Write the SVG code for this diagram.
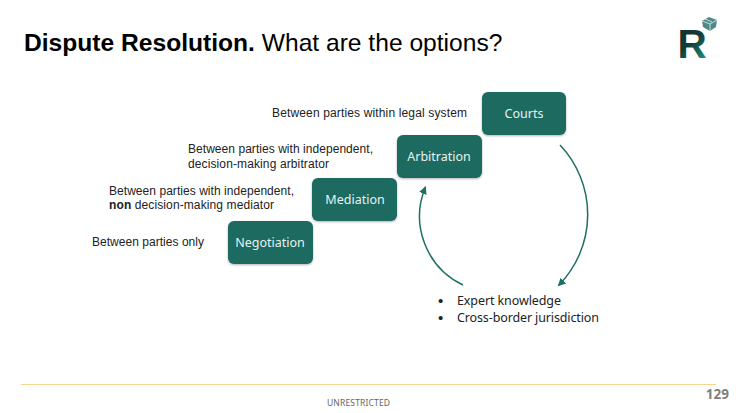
<svg xmlns="http://www.w3.org/2000/svg" width="736" height="413" viewBox="0 0 736 413">
<style>
.t{font-family:"Liberation Sans",Arial,sans-serif;font-size:12px;fill:#222}
.n rect{fill:#1b6b60;filter:url(#sh)}
.n text{font-family:"Noto Sans","Open Sans",sans-serif;font-size:12.5px;fill:#e8f2f0;text-anchor:middle}
.b{font-family:"Noto Sans","Open Sans",sans-serif;font-size:12.5px;fill:#222}
.d{font-family:"Liberation Sans",Arial,sans-serif;font-size:15px;fill:#222}
.c{fill:none;stroke:#1f6f64;stroke-width:1.5;marker-end:url(#a)}
</style>
<defs>
<filter id="sh" x="-10%" y="-10%" width="120%" height="125%"><feDropShadow dx="0" dy="1" stdDeviation="1" flood-color="#000" flood-opacity=".3"/></filter>
<marker id="a" markerWidth="10" markerHeight="10" refX="7" refY="4" orient="auto" markerUnits="userSpaceOnUse"><path d="M0 0L8 4L0 8Z" fill="#1f6f64"/></marker>
<linearGradient id="g" x1="0" y1="0" x2=".6" y2="1"><stop offset="0" stop-color="#0f2f2c"/><stop offset=".55" stop-color="#123c38"/><stop offset="1" stop-color="#1d8a7e"/></linearGradient>
</defs>
<rect width="736" height="413" fill="#fff"/>
<text x="24" y="51" font-family="Liberation Sans,Arial,sans-serif" font-size="24.6" fill="#000"><tspan font-weight="700">Dispute Resolution.</tspan> What are the options?</text>
<g id="logo">
<text x="677.500" y="58" font-family="Liberation Sans,Arial,sans-serif" font-weight="700" font-size="40.5" fill="url(#g)">R</text>
<path d="M702 21L709 17L717 20L716 27L710 31L703 27Z" fill="#4f8a88"/>
<path d="M702 21L710 24L717 20M710 24V31M705 19L712 22" fill="none" stroke="#e8f0f0" stroke-width=".8"/>
</g>
<g id="connectors">
<path class="c" d="M560 145A101 101 0 0 1 558.500 285.500"/>
<path class="c" d="M463 285A76 76 0 0 1 425.500 187"/>
</g>
<g id="courts" class="n"><rect x="482" y="92" width="84" height="43" rx="6"/><text x="524" y="118">Courts</text></g>
<g id="arbitration" class="n"><rect x="397" y="135" width="85" height="43" rx="6"/><text x="439" y="161">Arbitration</text></g>
<g id="mediation" class="n"><rect x="312" y="178" width="85" height="43" rx="6"/><text x="355" y="204">Mediation</text></g>
<g id="negotiation" class="n"><rect x="228" y="221" width="85" height="43" rx="6"/><text x="270" y="247">Negotiation</text></g>
<text class="t" x="272" y="117" textLength="195">Between parties within legal system</text>
<text class="t" x="188" y="153" textLength="185">Between parties with independent,</text>
<text class="t" x="188" y="168" textLength="141">decision-making arbitrator</text>
<text class="t" x="109" y="195" textLength="185">Between parties with independent,</text>
<text class="t" x="109" y="209" textLength="165"><tspan font-weight="700">non</tspan> decision-making mediator</text>
<text class="t" x="92" y="246" textLength="112">Between parties only</text>
<text class="d" x="438" y="306">•</text>
<text class="b" x="457" y="305" textLength="104">Expert knowledge</text>
<text class="d" x="438" y="323">•</text>
<text class="b" x="457" y="322" textLength="142">Cross-border jurisdiction</text>
<path d="M21 384.500H716" stroke="#f8d48c" stroke-width="1"/>
<text x="327" y="406" font-family="Noto Sans,sans-serif" font-size="8.5" fill="#666" textLength="63">UNRESTRICTED</text>
<text x="729" y="399" text-anchor="end" font-family="Noto Sans,sans-serif" font-weight="700" font-size="13.5" fill="#7f7f7f">129</text>
</svg>
